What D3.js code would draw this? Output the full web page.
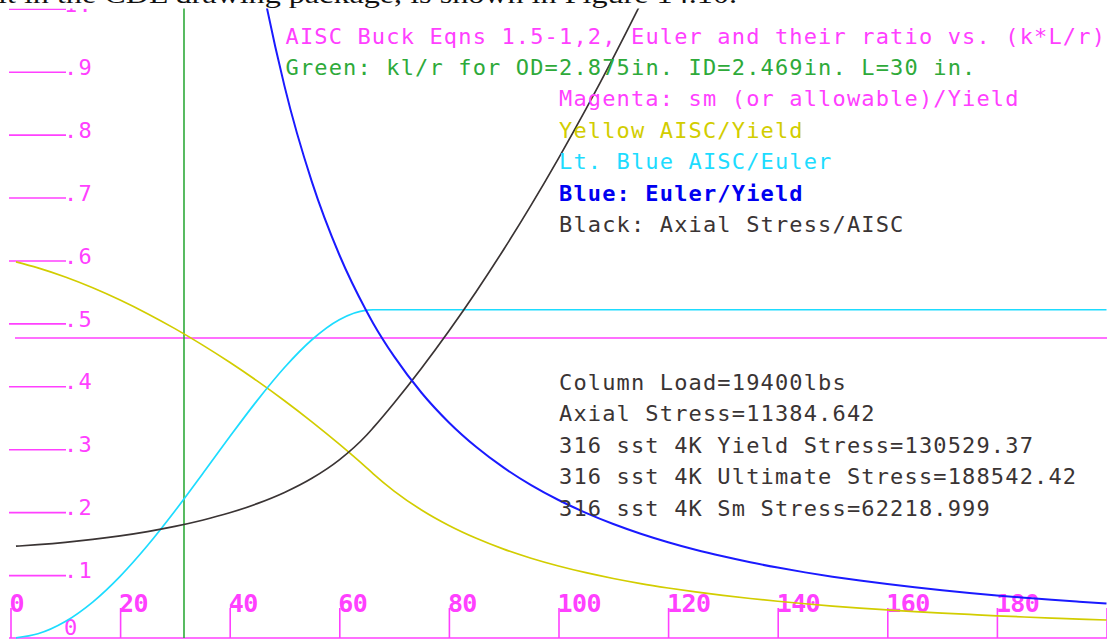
<!DOCTYPE html>
<html>
<head>
<meta charset="utf-8">
<script src="https://cdn.jsdelivr.net/npm/d3@7/dist/d3.min.js"></script>
<style>
  html, body { margin: 0; padding: 0; background: #fff; }
  svg { display: block; }
</style>
</head>
<body>
<svg id="chart" width="1107" height="639"></svg>
<script>
// slenderness ratio k*L/r sampled along the curves
const klr = [1, 5, 10, 15, 20, 25, 30, 35, 40, 45, 50, 55, 60, 65, 66.2,
  70, 75, 80, 85, 90, 95, 100, 105, 110, 115, 120, 125, 130, 135, 140,
  145, 150, 155, 160, 165, 170, 175, 180, 185, 190, 195, 200];

// AISC allowable / yield
const aiscYield = [0.5979, 0.5883, 0.5738, 0.5567, 0.5372, 0.5155, 0.4917, 0.4659,
  0.4382, 0.4086, 0.3771, 0.3436, 0.3081, 0.2704, 0.2609,
  0.2335, 0.2034, 0.1788, 0.1584, 0.1412, 0.1268, 0.1144, 0.1038, 0.0946, 0.0865,
  0.0795, 0.0732, 0.0677, 0.0628, 0.0584, 0.0544, 0.0508, 0.0476, 0.0447, 0.0420,
  0.0396, 0.0374, 0.0353, 0.0334, 0.0317, 0.0301, 0.0286];

// AISC allowable / Euler
const aiscEuler = [0.0003, 0.0067, 0.0262, 0.0571, 0.0980, 0.1469, 0.2018, 0.2603,
  0.3198, 0.3773, 0.4299, 0.4740, 0.5058, 0.5210, 0.5217,
  0.5217, 0.5217, 0.5217, 0.5217, 0.5217, 0.5217, 0.5217, 0.5217, 0.5217, 0.5217,
  0.5217, 0.5217, 0.5217, 0.5217, 0.5217, 0.5217, 0.5217, 0.5217, 0.5217, 0.5217,
  0.5217, 0.5217, 0.5217, 0.5217, 0.5217, 0.5217, 0.5217];

// Euler / yield (off scale below k*L/r = 40)
const eulerYield = [null, null, null, null, null, null, null, null,
  1.3705, 1.0829, 0.8771, 0.7249, 0.6091, 0.5190, 0.5000,
  0.4475, 0.3898, 0.3426, 0.3035, 0.2707, 0.2430, 0.2193, 0.1989, 0.1812, 0.1658,
  0.1523, 0.1403, 0.1298, 0.1203, 0.1119, 0.1043, 0.0975, 0.0913, 0.0857, 0.0805,
  0.0759, 0.0716, 0.0677, 0.0641, 0.0607, 0.0577, 0.0548];

// axial stress / AISC allowable (off scale above k*L/r = 120)
const axialAisc = [0.1459, 0.1483, 0.1520, 0.1567, 0.1624, 0.1692, 0.1774, 0.1872,
  0.1990, 0.2135, 0.2313, 0.2538, 0.2831, 0.3226, 0.3343,
  0.3736, 0.4288, 0.4879, 0.5508, 0.6175, 0.6880, 0.7624, 0.8405, 0.9225, 1.0082,
  1.0978, null, null, null, null, null, null, null, null, null,
  null, null, null, null, null, null, null];

// sm / yield = 62218.999 / 130529.37
const smYield = 0.4767;
// k*L/r for the 30 in. tube
const klrTube = 31.66;

const xTicks = [0, 20, 40, 60, 80, 100, 120, 140, 160, 180, 200];
const xTickLabels = ["0", "20", "40", "60", "80", "100", "120", "140", "160", "180", ""];
const yTicks = [0, 0.1, 0.2, 0.3, 0.4, 0.5, 0.6, 0.7, 0.8, 0.9, 1.0];
const yTickLabels = ["0", ".1", ".2", ".3", ".4", ".5", ".6", ".7", ".8", ".9", "1."];

const headerLines = [
  "AISC Buck Eqns 1.5-1,2, Euler and their ratio vs. (k*L/r)",
  "Green: kl/r for OD=2.875in. ID=2.469in. L=30 in."
];
const legendLines = [
  "Magenta: sm (or allowable)/Yield",
  "Yellow AISC/Yield",
  "Lt. Blue AISC/Euler",
  "Blue: Euler/Yield",
  "Black: Axial Stress/AISC"
];
const infoLines = [
  "Column Load=19400lbs",
  "Axial Stress=11384.642",
  "316 sst 4K Yield Stress=130529.37",
  "316 sst 4K Ultimate Stress=188542.42",
  "316 sst 4K Sm Stress=62218.999"
];
const captionText = "it in the CDL drawing package, is shown in Figure 14.10.";

const MAGENTA = "#ff40ff", GREEN = "#2eaa3a", YELLOW = "#d2cd00",
      CYAN = "#1ddcff", BLUE = "#1a1aff", DARK = "#3a3434";
const MONO = "'DejaVu Sans Mono', monospace";

const svg = d3.select("#chart");
const W = 1107, H = 639;

const x = d3.scaleLinear().domain([0, 200]).range([10.5, 1106.5]);
const y = d3.scaleLinear().domain([0, 1]).range([638, 8.8]);

svg.append("defs").append("clipPath").attr("id", "plotClip")
  .append("rect").attr("x", 0).attr("y", 8.5).attr("width", W).attr("height", H - 8.5);

const g = svg.append("g").attr("clip-path", "url(#plotClip)");

// y axis: short horizontal ticks with labels to their right
const yAxis = d3.axisRight(y)
  .tickValues(yTicks.filter(v => v > 0))
  .tickSize(57)
  .tickFormat(d => yTickLabels[yTicks.indexOf(d)]);
const yg = g.append("g").attr("transform", "translate(9,0)").call(yAxis);
yg.select(".domain").remove();
yg.selectAll(".tick line").attr("stroke", MAGENTA).attr("stroke-width", 1.6);
yg.selectAll(".tick text")
  .attr("x", 55).attr("dy", 0).attr("y", 2.6)
  .attr("fill", MAGENTA).attr("font-size", 22).attr("letter-spacing", "1.15px")
  .style("font-family", MONO);

// zero label for the y axis sits on the x axis line
g.append("text")
  .attr("x", 64).attr("y", y(0) - 3)
  .attr("fill", MAGENTA).attr("font-size", 22)
  .style("font-family", MONO)
  .text(yTickLabels[0]);

// x axis along the bottom, ticks pointing up, labels to the right of each tick
const xAxis = d3.axisTop(x)
  .tickValues(xTicks)
  .tickSize(30)
  .tickSizeOuter(0)
  .tickFormat(d => xTickLabels[xTicks.indexOf(d)]);
const xg = g.append("g").attr("transform", `translate(0,${y(0)})`).call(xAxis);
xg.select(".domain").attr("d", `M9,0H${W}`).attr("stroke", MAGENTA).attr("stroke-width", 1.6);
xg.selectAll(".tick line").attr("stroke", MAGENTA).attr("stroke-width", 1.6);
xg.selectAll(".tick text")
  .attr("x", -1.5).attr("y", -26).attr("dy", 0)
  .attr("text-anchor", "start")
  .attr("fill", MAGENTA).attr("font-size", 25).attr("font-weight", "bold")
  .attr("letter-spacing", "-0.6px")
  .style("font-family", MONO);

// sm / yield reference line
g.append("line")
  .attr("x1", 15).attr("x2", W)
  .attr("y1", y(smYield)).attr("y2", y(smYield))
  .attr("stroke", MAGENTA).attr("stroke-width", 1.6);

// tube slenderness marker
g.append("line")
  .attr("x1", x(klrTube)).attr("x2", x(klrTube))
  .attr("y1", 0).attr("y2", y(0))
  .attr("stroke", GREEN).attr("stroke-width", 1.6);

const series = [
  { values: aiscYield, color: YELLOW, width: 1.7 },
  { values: aiscEuler, color: CYAN, width: 1.7 },
  { values: axialAisc, color: DARK, width: 1.7 },
  { values: eulerYield, color: BLUE, width: 2 }
];

const line = d3.line()
  .defined(d => d[1] !== null)
  .x(d => x(d[0]))
  .y(d => y(d[1]))
  .curve(d3.curveMonotoneX);

series.forEach(s => {
  g.append("path")
    .datum(klr.map((k, i) => [k, s.values[i]]))
    .attr("fill", "none")
    .attr("stroke", s.color)
    .attr("stroke-width", s.width)
    .attr("d", line);
});

// text blocks
const font = sel => sel
  .attr("font-size", 22)
  .attr("letter-spacing", "1.15px")
  .style("font-family", MONO);

const headerColors = [MAGENTA, GREEN];
headerLines.forEach((t, i) => {
  g.append("text").call(font)
    .attr("x", 285.5).attr("y", 43.5 + i * 31.5)
    .attr("fill", headerColors[i]).text(t);
});

const legendColors = [MAGENTA, YELLOW, CYAN, "#0000f0", DARK];
legendLines.forEach((t, i) => {
  g.append("text").call(font)
    .attr("x", 559).attr("y", 106 + i * 31.5)
    .attr("fill", legendColors[i])
    .attr("font-weight", i === 3 ? "bold" : "normal")
    .text(t);
});

infoLines.forEach((t, i) => {
  g.append("text").call(font)
    .attr("x", 559).attr("y", 389.5 + i * 31.5)
    .attr("fill", DARK).text(t);
});

// running text of the surrounding page, cut at the top edge
svg.append("text")
  .attr("x", -2).attr("y", 3)
  .attr("font-size", 25)
  .attr("textLength", 739)
  .attr("lengthAdjust", "spacingAndGlyphs")
  .attr("fill", "#111")
  .style("font-family", "'Liberation Serif', 'Times New Roman', serif")
  .text(captionText);
</script>
</body>
</html>
